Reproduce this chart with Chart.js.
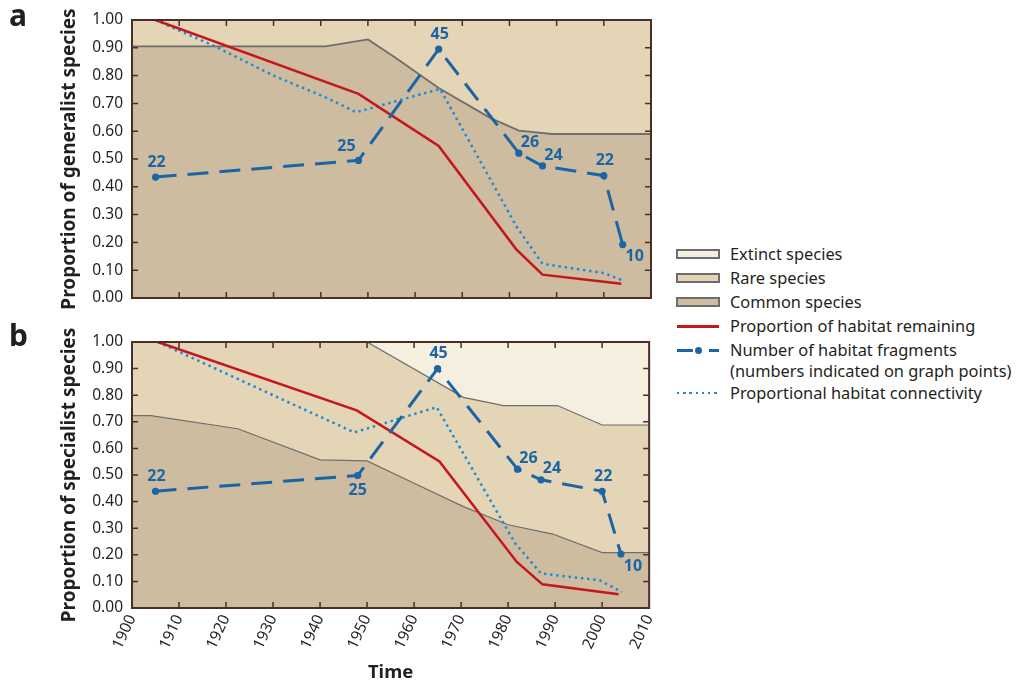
<!DOCTYPE html>
<html>
<head>
<meta charset="utf-8">
<script src="https://cdn.jsdelivr.net/npm/chart.js@4.4.1/dist/chart.umd.min.js"></script>
<style>
  html, body { margin: 0; padding: 0; background: #ffffff; }
  body { width: 1016px; height: 684px; position: relative; overflow: hidden; font-family: "Noto Sans", Lato, sans-serif; color: #231f20; }
  canvas { position: absolute; left: 0; }
  #ca { top: 0; }
  #cb { top: 322px; }
  .letter { position: absolute; font: bold 30px "Noto Sans", Lato, sans-serif; color: #231f20; line-height: 1; }
  .lg-text { position: absolute; left: 730px; font-size: 16.4px; line-height: 20px; height: 20px; white-space: nowrap; color: #231f20; }
  .sw { position: absolute; left: 676px; width: 44px; height: 10px; box-sizing: border-box; border: 2px solid #6d6d6d; }
  .ln { position: absolute; }
</style>
</head>
<body>
<canvas id="ca" width="670" height="320"></canvas>
<canvas id="cb" width="670" height="362"></canvas>
<div class="letter" style="left:9px; top:0px;">a</div>
<div class="letter" style="left:9px; top:320px;">b</div>
<div id="legend"></div>
<script>
// ---------------- DATA ----------------
const xTickYears = [1900, 1910, 1920, 1930, 1940, 1950, 1960, 1970, 1980, 1990, 2000, 2010];
const yTickValues = [0, 0.1, 0.2, 0.3, 0.4, 0.5, 0.6, 0.7, 0.8, 0.9, 1.0];

// Panel a: generalist species
const aCommonYears = [1900, 1941, 1950, 1956, 1965, 1976, 1982, 1989, 2010];
const aCommonVals  = [0.905, 0.905, 0.93, 0.862, 0.755, 0.647, 0.602, 0.59, 0.59];
const aHabitatYears = [1905, 1948, 1965, 1981.4, 1987, 2003.7];
const aHabitatVals  = [1.0, 0.734, 0.547, 0.176, 0.084, 0.051];
const aConnYears = [1905, 1917, 1930, 1941, 1947.5, 1965.3, 1981.5, 1987, 2000, 2004];
const aConnVals  = [1.0, 0.91, 0.80, 0.722, 0.668, 0.752, 0.257, 0.123, 0.09, 0.063];
const aFragYears = [1905, 1948, 1965, 1982, 1987, 2000, 2004];
const aFragVals  = [0.435, 0.495, 0.895, 0.521, 0.475, 0.44, 0.192];
const aFragCounts = [22, 25, 45, 26, 24, 22, 10];

// Panel b: specialist species
const bRareYears = [1900, 1950, 1970.5, 1979, 1990.5, 2000, 2010];
const bRareVals  = [1.0, 1.0, 0.792, 0.761, 0.761, 0.688, 0.688];
const bCommonYears = [1900, 1904, 1922.5, 1940, 1950, 1960, 1970.5, 1980, 1989.5, 2000, 2010];
const bCommonVals  = [0.723, 0.723, 0.674, 0.557, 0.553, 0.469, 0.381, 0.313, 0.278, 0.208, 0.208];
const bHabitatYears = [1905.5, 1947.8, 1965.4, 1981.8, 1987.3, 2003.5];
const bHabitatVals  = [1.0, 0.743, 0.551, 0.174, 0.089, 0.052];
const bConnYears = [1905.5, 1930, 1947.3, 1964.8, 1981.5, 1987, 1999.5, 2004.2];
const bConnVals  = [1.0, 0.80, 0.66, 0.755, 0.243, 0.13, 0.104, 0.06];
const bFragYears = [1905, 1948, 1965, 1982, 1987, 2000, 2004];
const bFragVals  = [0.439, 0.498, 0.90, 0.522, 0.482, 0.439, 0.203];
const bFragCounts = [22, 25, 45, 26, 24, 22, 10];

// label placement keys (style, not data)
const aFragLabelPos = ['above', 'aboveLeft', 'above', 'aboveRight', 'aboveRight', 'above', 'belowRight'];
const bFragLabelPos = ['above', 'below', 'above', 'aboveRight', 'aboveRight', 'above', 'belowRight'];

// ---------------- STYLE ----------------
const C = {
  extinct: '#f5efdf',
  rare: '#e3d5b5',
  common: '#cebca1',
  boundary: '#6e6e6e',
  frame: '#4a2e28',
  red: '#c4161c',
  frag: '#1b65a5',
  conn: '#1b8ad6',
  text: '#231f20'
};
const FONT = '"Noto Sans", Lato, sans-serif';
const LABEL_OFFSETS = {
  above: [1, -15], aboveLeft: [-12, -14], aboveRight: [11, -11], below: [0, 15], belowRight: [12, 12]
};

Chart.defaults.font.family = FONT;
Chart.defaults.color = C.text;

function pts(xs, ys) { return xs.map((x, i) => ({ x: x, y: ys[i] })); }

const bgPlugin = {
  id: 'plotBg',
  beforeDraw(chart, args, opts) {
    const { ctx, chartArea: a } = chart;
    ctx.save();
    ctx.fillStyle = opts.color;
    ctx.fillRect(a.left, a.top, a.right - a.left, a.bottom - a.top);
    ctx.restore();
  }
};

const framePlugin = {
  id: 'frame',
  afterDatasetsDraw(chart) {
    const { ctx, chartArea: { left, right, top, bottom }, scales: { x, y } } = chart;
    ctx.save();
    ctx.strokeStyle = C.frame;
    ctx.lineWidth = 1.5;
    ctx.beginPath();
    xTickYears.forEach(v => {
      if (v <= x.min || v >= x.max) return;
      const px = x.getPixelForValue(v);
      ctx.moveTo(px, top); ctx.lineTo(px, top + 6);
      ctx.moveTo(px, bottom); ctx.lineTo(px, bottom - 6);
    });
    yTickValues.forEach(v => {
      if (v <= y.min || v >= y.max) return;
      const py = y.getPixelForValue(v);
      ctx.moveTo(left, py); ctx.lineTo(left + 6, py);
      ctx.moveTo(right, py); ctx.lineTo(right - 6, py);
    });
    ctx.stroke();
    ctx.lineWidth = 2;
    ctx.strokeRect(left, top, right - left, bottom - top);
    ctx.restore();
  }
};

const fragLabelPlugin = {
  id: 'fragLabels',
  afterDatasetsDraw(chart, args, opts) {
    const { ctx } = chart;
    const meta = chart.getDatasetMeta(0);
    ctx.save();
    ctx.font = 'bold 16px ' + FONT;
    ctx.fillStyle = C.frag;
    ctx.textAlign = 'center';
    ctx.textBaseline = 'middle';
    meta.data.forEach((el, i) => {
      const off = LABEL_OFFSETS[opts.positions[i]];
      ctx.fillText(String(opts.counts[i]), el.x + off[0], el.y + off[1]);
    });
    ctx.restore();
  }
};

function makeChart(id, cfg) {
  const datasets = [
    { label: 'Number of habitat fragments', data: pts(cfg.fragYears, cfg.fragVals),
      borderColor: C.frag, backgroundColor: C.frag, borderWidth: 3, borderDash: [21, 11],
      pointRadius: 3.6, pointBackgroundColor: C.frag, pointBorderWidth: 0, fill: false, tension: 0 },
    { label: 'Proportion of habitat remaining', data: pts(cfg.habYears, cfg.habVals),
      borderColor: C.red, borderWidth: 2.5, pointRadius: 0, fill: false, tension: 0 },
    { label: 'Proportional habitat connectivity', data: pts(cfg.connYears, cfg.connVals),
      borderColor: C.conn, borderWidth: 2.5, borderDash: [2.4, 3.8], pointRadius: 0, fill: false, tension: 0 },
    { label: 'Common species', data: pts(cfg.commonYears, cfg.commonVals),
      borderColor: C.boundary, borderWidth: cfg.boundaryWidth, backgroundColor: C.common, pointRadius: 0, fill: 'origin', tension: 0 }
  ];
  if (cfg.rareYears) {
    datasets.push({ label: 'Rare species', data: pts(cfg.rareYears, cfg.rareVals),
      borderColor: C.boundary, borderWidth: cfg.boundaryWidth, backgroundColor: C.rare, pointRadius: 0, fill: 'origin', tension: 0 });
  }
  return new Chart(document.getElementById(id), {
    type: 'line',
    data: { datasets },
    options: {
      responsive: false,
      animation: false,
      devicePixelRatio: 1,
      events: [],
      layout: { padding: cfg.padding },
      plugins: {
        legend: { display: false },
        tooltip: { enabled: false },
        plotBg: { color: cfg.bg },
        fragLabels: { counts: cfg.counts, positions: cfg.positions }
      },
      scales: {
        x: {
          type: 'linear', min: 1900, max: 2010,
          display: cfg.showX,
          afterBuildTicks: s => { s.ticks = xTickYears.map(v => ({ value: v })); },
          ticks: { callback: v => String(v), font: { size: 15.5 }, color: C.text, minRotation: 65, maxRotation: 65, padding: 4, autoSkip: false },
          grid: { display: false, drawTicks: false },
          border: { display: false },
          title: { display: cfg.showX, text: 'Time', font: { size: 18.5, weight: 'bold' }, color: C.text, padding: { top: 0, bottom: 0 } },
          afterFit: s => { s.height = cfg.xHeight; }
        },
        y: {
          type: 'linear', min: 0, max: 1,
          afterBuildTicks: s => { s.ticks = yTickValues.map(v => ({ value: v })); },
          ticks: { callback: v => Number(v).toFixed(2), font: { size: 15.5 }, color: C.text, padding: 9 },
          grid: { display: false, drawTicks: false },
          border: { display: false },
          title: { display: true, text: cfg.yTitle, font: { size: 19, weight: 'bold' }, color: C.text, padding: { top: 58, bottom: 0 } },
          afterFit: s => { s.width = 132; }
        }
      }
    },
    plugins: [bgPlugin, fragLabelPlugin, framePlugin]
  });
}

makeChart('ca', {
  fragYears: aFragYears, fragVals: aFragVals, counts: aFragCounts, positions: aFragLabelPos,
  habYears: aHabitatYears, habVals: aHabitatVals,
  connYears: aConnYears, connVals: aConnVals,
  commonYears: aCommonYears, commonVals: aCommonVals,
  bg: C.rare, boundaryWidth: 1.8,
  padding: { left: 0, top: 20, right: 19, bottom: 22 },
  showX: false, xHeight: 0,
  yTitle: 'Proportion of generalist species'
});

makeChart('cb', {
  fragYears: bFragYears, fragVals: bFragVals, counts: bFragCounts, positions: bFragLabelPos,
  habYears: bHabitatYears, habVals: bHabitatVals,
  connYears: bConnYears, connVals: bConnVals,
  commonYears: bCommonYears, commonVals: bCommonVals,
  rareYears: bRareYears, rareVals: bRareVals,
  bg: C.extinct, boundaryWidth: 1.2,
  padding: { left: 0, top: 20, right: 19, bottom: 0 },
  showX: true, xHeight: 76,
  yTitle: 'Proportion of specialist species'
});

// ---------------- LEGEND (HTML) ----------------
const legendItems = [
  { kind: 'swatch', color: C.extinct, text: 'Extinct species', cy: 254 },
  { kind: 'swatch', color: C.rare, text: 'Rare species', cy: 278 },
  { kind: 'swatch', color: C.common, text: 'Common species', cy: 302 },
  { kind: 'red', text: 'Proportion of habitat remaining', cy: 326 },
  { kind: 'frag', text: 'Number of habitat fragments', cy: 350, text2: '(numbers indicated on graph points)', cy2: 371 },
  { kind: 'conn', text: 'Proportional habitat connectivity', cy: 393 }
];
const lg = document.getElementById('legend');
function add(html) { lg.insertAdjacentHTML('beforeend', html); }
legendItems.forEach(it => {
  if (it.kind === 'swatch') {
    add(`<div class="sw" style="top:${it.cy - 5}px;background:${it.color}"></div>`);
  } else if (it.kind === 'red') {
    add(`<div class="ln" style="left:677px;width:42px;top:${it.cy - 1}px;height:2.5px;background:${C.red}"></div>`);
  } else if (it.kind === 'frag') {
    add(`<div class="ln" style="left:677px;width:16px;top:${it.cy - 1.5}px;height:3px;background:${C.frag}"></div>`);
    add(`<div class="ln" style="left:694.5px;width:7px;top:${it.cy - 3.5}px;height:7px;border-radius:50%;background:${C.frag}"></div>`);
    add(`<div class="ln" style="left:709px;width:10px;top:${it.cy - 1.5}px;height:3px;background:${C.frag}"></div>`);
  } else if (it.kind === 'conn') {
    add(`<div class="ln" style="left:677px;width:43px;top:${it.cy - 1.2}px;height:2.4px;background:repeating-linear-gradient(90deg, ${C.conn} 0 2.4px, transparent 2.4px 6.2px)"></div>`);
  }
  add(`<div class="lg-text" style="top:${it.cy - 10}px">${it.text}</div>`);
  if (it.text2) add(`<div class="lg-text" style="top:${it.cy2 - 10}px">${it.text2}</div>`);
});
</script>
</body>
</html>
